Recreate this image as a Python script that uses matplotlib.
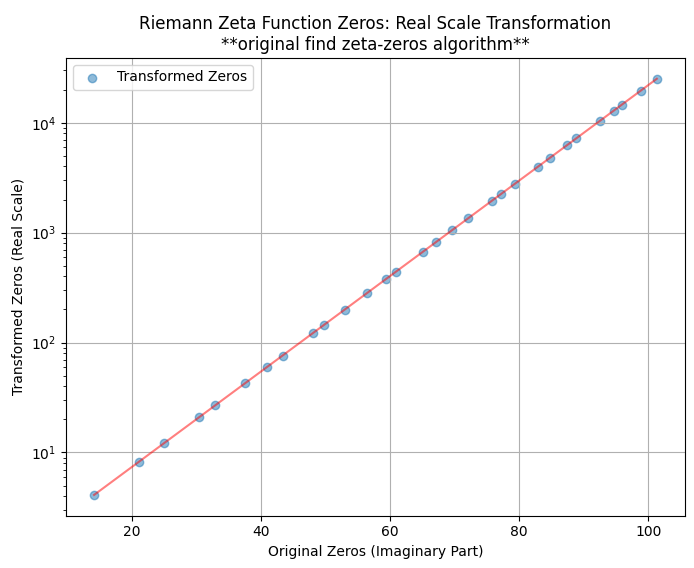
import matplotlib
matplotlib.use("Agg")
import matplotlib.pyplot as plt

# Imaginary parts of the first 30 nontrivial zeta zeros
zeros_imag = [14.1347, 21.0220, 25.0109, 30.4249, 32.9351, 37.5862, 40.9187,
              43.3271, 48.0052, 49.7738, 52.9703, 56.4462, 59.3470, 60.8318,
              65.1125, 67.0798, 69.5464, 72.0672, 75.7047, 77.1448, 79.3374,
              82.9104, 84.7355, 87.4253, 88.8091, 92.4919, 94.6513, 95.8706,
              98.8312, 101.3179]

# Transformed values (real scale)
transformed = [4.110, 8.184, 12.196, 20.958, 26.94, 42.90, 59.85, 76.15,
               121.6, 145.1, 199.7, 282.8, 378.0, 438.5, 672.6, 818.8,
               1047.8, 1348.3, 1939.6, 2239.6, 2789.0, 3987.0, 4786.0,
               6264.0, 7193.0, 10397.0, 12903.0, 14576.0, 19600.0, 25139.0]

fig, ax = plt.subplots(figsize=(6.94, 5.68), dpi=100)
ax.scatter(zeros_imag, transformed, alpha=0.5, label="Transformed Zeros")
ax.plot(zeros_imag, transformed, color="red", alpha=0.5)
ax.set_yscale("log")
ax.set_xlabel("Original Zeros (Imaginary Part)")
ax.set_ylabel("Transformed Zeros (Real Scale)")
ax.set_title("Riemann Zeta Function Zeros: Real Scale Transformation\n"
             "**original find zeta-zeros algorithm**")
ax.legend(loc="upper left")
ax.grid(True)
fig.subplots_adjust(left=0.095, right=0.987, top=0.898, bottom=0.092)
fig.savefig("out.png", dpi=100)
